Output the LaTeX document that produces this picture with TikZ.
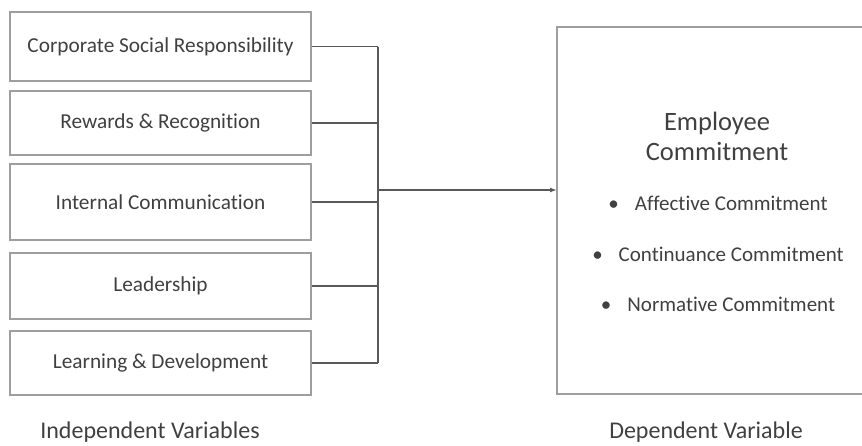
\documentclass[tikz,border=0pt]{standalone}
\usepackage{fontspec}
\setmainfont{Carlito}[Ligatures=NoCommon]
\usetikzlibrary{positioning}
\tikzset{>=latex}
\definecolor{boxline}{gray}{0.62}
\definecolor{wire}{gray}{0.35}
\definecolor{ink}{gray}{0.25}
\tikzset{var box/.style = {draw=boxline, line width=1.2pt, minimum width=301pt, inner sep=0pt, text=ink, font=\fontsize{21.3}{24}\selectfont}}
\tikzset{item/.style = {text=ink, font=\fontsize{21}{24}\selectfont}}
\tikzset{caption/.style = {text=ink, font=\fontsize{24}{28}\selectfont}}

\begin{document}
\begin{tikzpicture}[x=1pt, y=-1pt]
		\useasboundingbox (0,0) rectangle (862,445);
		\clip (0,0) rectangle (862,445);

		% Independent variables
		\node[var box, minimum height=69pt] (csr) at (160.5,46.5) {Corporate Social Responsibility};
		\node[var box, minimum height=64pt] (rr) at (160.5,123) {Rewards \& Recognition};
		\node[var box, minimum height=76pt] (ic) at (160.5,202) {Internal Communication};
		\node[var box, minimum height=66pt] (lead) at (160.5,286) {Leadership};
		\node[var box, minimum height=64pt] (ld) at (160.5,363) {Learning \& Development};

		% Dependent variable
		\node[draw=boxline, line width=1.2pt, minimum width=320pt, minimum height=367pt] (dv) at (717,210.5) {};
		\node[text=ink, align=center, font=\fontsize{26.5}{30}\selectfont] (emp) at (717,136) {Employee\\Commitment};
		\node[item] (aff) at (718,203) {\textbullet\hspace{16pt}Affective Commitment};
		\node[item] (cont) at (718,254) {\textbullet\hspace{16pt}Continuance Commitment};
		\node[item] (norm) at (718,304) {\textbullet\hspace{16pt}Normative Commitment};

		% Bus
		\coordinate (bustop) at (378,46.5);
		\coordinate (busbot) at (378,363);
		\coordinate (bus) at (378,190);
		\draw[wire, line width=1.2pt] (bustop) -- (busbot);
		\foreach \v in {csr, rr, ic, lead, ld}
			\draw[wire, line width=1.2pt] (\v.east) -- (\v.east -| bus);
		\draw[wire, line width=1.2pt, ->] (bus) -- (bus -| dv.west);

		% Captions
		\node[caption] (indep) at (150,432) {Independent Variables};
		\node[caption] (dep) at (706,432) {Dependent Variable};
	\end{tikzpicture}
\end{document}
